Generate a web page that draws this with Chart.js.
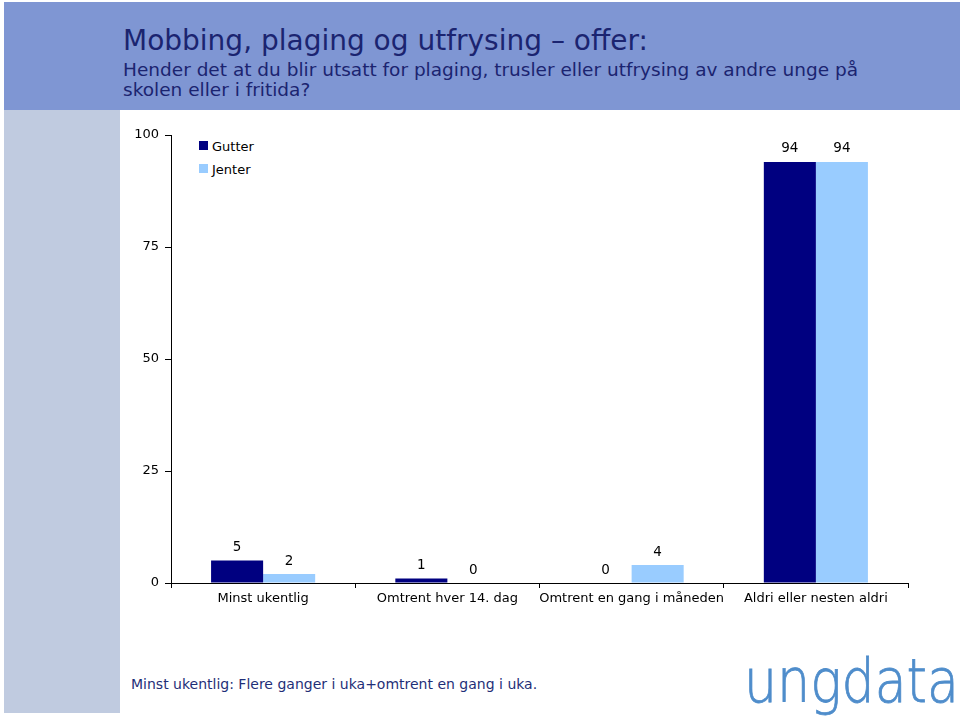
<!DOCTYPE html>
<html>
<head>
<meta charset="utf-8">
<script src="https://cdn.jsdelivr.net/npm/chart.js@4"></script>
<style>
  html, body { margin: 0; padding: 0; background: #fff; }
  body { width: 960px; height: 716px; position: relative; overflow: hidden; font-family: 'DejaVu Sans', sans-serif; }
  .header { position: absolute; left: 4px; top: 2px; width: 956px; height: 108px; background: #7f96d3; }
  .stripe { position: absolute; left: 4px; top: 110px; width: 116px; height: 603px; background: #c0cbe0; }
  .title { position: absolute; left: 123px; top: 24px; font-size: 28px; color: #1b2470; white-space: nowrap; }
  .sub { position: absolute; left: 123px; top: 60px; font-size: 18.5px; line-height: 20px; color: #1b2470; width: 760px; }
  .foot { position: absolute; left: 131px; top: 676px; font-size: 14px; color: #1f2f78; white-space: nowrap; }
  .logo { position: absolute; left: 744px; top: 646px; font-family: 'DejaVu Sans', sans-serif; font-weight: 200; font-size: 60px; line-height: 70px; color: #4f8dcb; transform: scaleX(0.87); transform-origin: left top; -webkit-text-stroke: 0.8px #4f8dcb; }
  .legend { position: absolute; left: 199px; top: 138px; font-size: 13px; color: #000; }
  .legend div { height: 23px; line-height: 17px; white-space: nowrap; }
  .legend span { display: inline-block; width: 9px; height: 9px; margin-right: 4px; vertical-align: 1px; }
  canvas { position: absolute; left: 0; top: 0; }
</style>
</head>
<body>
<div class="header"></div>
<div class="stripe"></div>
<div class="title">Mobbing, plaging og utfrysing – offer:</div>
<div class="sub">Hender det at du blir utsatt for plaging, trusler eller utfrysing av andre unge på skolen eller i fritida?</div>
<div class="legend" id="legend"></div>
<div class="foot">Minst ukentlig: Flere ganger i uka+omtrent en gang i uka.</div>
<div class="logo">ungdata</div>
<canvas id="chart" width="960" height="716"></canvas>
<script>
  const categories = ['Minst ukentlig', 'Omtrent hver 14. dag', 'Omtrent en gang i måneden', 'Aldri eller nesten aldri'];
  const seriesNames = ['Gutter', 'Jenter'];
  const gutter = [5, 1, 0, 94];
  const jenter = [2, 0, 4, 94];
  const yTicks = [0, 25, 50, 75, 100];
  const colors = ['#000080', '#99ccff'];

  const FONT = "'DejaVu Sans', sans-serif";

  // legend from the series names
  const legendEl = document.getElementById('legend');
  seriesNames.forEach(function (name, i) {
    const row = document.createElement('div');
    row.innerHTML = '<span style="background:' + colors[i] + '"></span>' + name;
    legendEl.appendChild(row);
  });

  const valueLabels = {
    id: 'valueLabels',
    afterDatasetsDraw: function (chart) {
      const ctx = chart.ctx;
      ctx.save();
      ctx.font = '13.5px ' + FONT;
      ctx.fillStyle = '#000';
      ctx.textAlign = 'center';
      ctx.textBaseline = 'middle';
      chart.data.datasets.forEach(function (ds, di) {
        chart.getDatasetMeta(di).data.forEach(function (bar, i) {
          ctx.fillText(String(ds.data[i]), bar.x, bar.y - 13);
        });
      });
      ctx.restore();
    }
  };

  new Chart(document.getElementById('chart'), {
    type: 'bar',
    data: {
      labels: categories,
      datasets: [
        { label: seriesNames[0], data: gutter, backgroundColor: colors[0] },
        { label: seriesNames[1], data: jenter, backgroundColor: colors[1] }
      ]
    },
    options: {
      responsive: false,
      animation: false,
      devicePixelRatio: 1,
      categoryPercentage: 0.565,
      barPercentage: 1,
      layout: { padding: { left: 0, right: 52, top: 135, bottom: 93 } },
      plugins: { legend: { display: false }, tooltip: { enabled: false } },
      scales: {
        x: {
          grid: { offset: true, drawOnChartArea: false, drawTicks: true, tickLength: 5, color: '#000' },
          border: { color: '#000', width: 1 },
          ticks: { color: '#000', font: { family: FONT, size: 13 }, padding: 3, maxRotation: 0, autoSkip: false },
          afterFit: function (s) { s.height = 40; }
        },
        y: {
          min: 0, max: 100,
          afterBuildTicks: function (s) { s.ticks = yTicks.map(function (v) { return { value: v }; }); },
          grid: { drawOnChartArea: false, drawTicks: true, tickLength: 6, color: '#000' },
          border: { color: '#000', width: 1 },
          ticks: { color: '#000', font: { family: FONT, size: 13 }, padding: 6 },
          afterFit: function (s) { s.width = 171; }
        }
      }
    },
    plugins: [valueLabels]
  });
</script>
</body>
</html>
